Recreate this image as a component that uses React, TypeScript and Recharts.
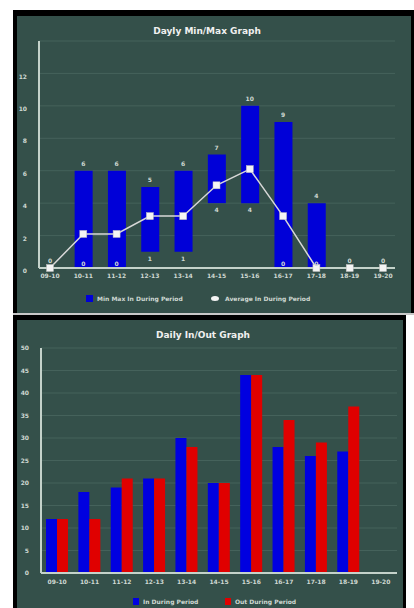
import React from 'react';
import {
  ComposedChart,
  BarChart,
  Bar,
  Line,
  XAxis,
  YAxis,
  CartesianGrid,
  LabelList,
} from 'recharts';

const hours = ['09-10', '10-11', '11-12', '12-13', '13-14', '14-15', '15-16', '16-17', '17-18', '18-19', '19-20'];
const minValues = [0, 0, 0, 1, 1, 4, 4, 0, 0, 0, 0];
const maxValues = [0, 6, 6, 5, 6, 7, 10, 9, 4, 0, 0];
const avgValues = [0, 2.1, 2.1, 3.2, 3.2, 5.1, 6.1, 3.2, 0, 0, 0];
const minMaxTicks = [0, 2, 4, 6, 8, 10, 12];

const inValues = [12, 18, 19, 21, 30, 20, 44, 28, 26, 27, 0];
const outValues = [12, 12, 21, 21, 28, 20, 44, 34, 29, 37, 0];
const inOutTicks = [0, 5, 10, 15, 20, 25, 30, 35, 40, 45, 50];

const BG = '#34504a';
const GRID = '#45625b';
const AXIS = '#c4d2ca';
const TEXT = '#cfd8d2';
const FONT = '"DejaVu Sans", sans-serif';

const minMaxData = hours.map((h, i) => ({
  idx: i,
  hour: h,
  range: [minValues[i], maxValues[i]],
  min: minValues[i],
  max: maxValues[i],
  avg: avgValues[i],
}));

const inOutData = hours.map((h, i) => ({ hour: h, inn: inValues[i], out: outValues[i] }));

const tickStyle = { fill: TEXT, fontSize: 6, fontFamily: FONT, fontWeight: 'bold' as const };

// labels ride on invisible lines so zero-height bars still get one
const maxLabel = (props: any) => {
  const { x, y, value } = props;
  return (
    <text x={x} y={y - 5} textAnchor="middle" fill={TEXT} fontSize={6} fontFamily={FONT} fontWeight="bold">
      {value}
    </text>
  );
};

const minLabel = (props: any) => {
  const { x, y, value, index } = props;
  if (maxValues[index] === 0) return null;
  return (
    <text x={x} y={Math.min(y + 9, 266)} textAnchor="middle" fill={TEXT} fontSize={6} fontFamily={FONT} fontWeight="bold">
      {value}
    </text>
  );
};

const squareDot = (props: any) => {
  const { cx, cy, index } = props;
  return <rect key={index} x={cx - 3.5} y={cy - 3.5} width={7} height={7} fill="#f4f4f4" stroke="#bbbbbb" strokeWidth={0.5} />;
};

const legendText: React.CSSProperties = {
  position: 'absolute',
  color: TEXT,
  fontSize: 6,
  fontFamily: FONT,
  fontWeight: 'bold',
  whiteSpace: 'nowrap',
};

export default function App() {
  return (
    <div style={{ position: 'absolute', left: 0, top: 0, width: 414, height: 608, background: '#ffffff', overflow: 'hidden' }}>
      {/* top panel */}
      <div style={{ position: 'absolute', left: 13, top: 10, width: 401, height: 303, boxSizing: 'border-box', background: BG, borderTop: '6px solid #000', borderLeft: '4px solid #000', borderRight: '3px solid #000' }} />
      <div style={{ position: 'absolute', left: 13, top: 313, width: 401, height: 2, background: '#c8c8c8' }} />
      {/* bottom panel */}
      <div style={{ position: 'absolute', left: 13, top: 315, width: 393, height: 293, boxSizing: 'border-box', background: BG, borderTop: '5px solid #000', borderLeft: '4px solid #000', borderRight: '3px solid #000' }} />

      <div style={{ position: 'absolute', left: 0, top: 26, width: 414, textAlign: 'center', color: '#f0f0f0', fontFamily: FONT, fontWeight: 'bold', fontSize: 9 }}>
        Dayly Min/Max Graph
      </div>
      <div style={{ position: 'absolute', left: 0, top: 330, width: 406, textAlign: 'center', color: '#f0f0f0', fontFamily: FONT, fontWeight: 'bold', fontSize: 9 }}>
        Daily In/Out Graph
      </div>

      <div style={{ position: 'absolute', left: 0, top: 0 }}>
        <ComposedChart width={414} height={313} data={minMaxData} margin={{ top: 41, right: 19, bottom: 29, left: 17 }}>
          <CartesianGrid vertical={false} stroke={GRID} />
          <XAxis
            dataKey="idx"
            type="number"
            domain={[-0.33, 10.36]}
            ticks={hours.map((_, i) => i)}
            interval={0}
            tickFormatter={(v) => hours[v]}
            axisLine={{ stroke: AXIS, strokeWidth: 2 }}
            tickLine={false}
            tick={tickStyle}
            tickMargin={0}
            height={16}
          />
          <YAxis
            domain={[0, 14]}
            ticks={minMaxTicks}
            interval={0}
            axisLine={{ stroke: AXIS, strokeWidth: 2 }}
            tickLine={false}
            tick={{ ...tickStyle, dy: 3 }}
            tickMargin={6}
            width={22}
          />
          <Bar dataKey="range" name="Min Max In During Period" barSize={18} fill="#0000d8" isAnimationActive={false} />
          <Line dataKey="max" stroke="none" dot={false} activeDot={false} legendType="none" isAnimationActive={false}>
            <LabelList dataKey="max" content={maxLabel} />
          </Line>
          <Line dataKey="min" stroke="none" dot={false} activeDot={false} legendType="none" isAnimationActive={false}>
            <LabelList dataKey="min" content={minLabel} />
          </Line>
          <Line dataKey="avg" name="Average In During Period" stroke="#d8d8d8" strokeWidth={1.5} dot={squareDot} activeDot={false} isAnimationActive={false} />
        </ComposedChart>
      </div>

      <div style={{ position: 'absolute', left: 0, top: 316 }}>
        <BarChart width={414} height={292} data={inOutData} margin={{ top: 32, right: 17, bottom: 19, left: 17 }} barGap={0}>
          <CartesianGrid vertical={false} stroke={GRID} />
          <XAxis
            dataKey="hour"
            interval={0}
            axisLine={{ stroke: AXIS, strokeWidth: 2 }}
            tickLine={false}
            tick={tickStyle}
            tickMargin={1}
            height={16}
          />
          <YAxis
            domain={[0, 50]}
            ticks={inOutTicks}
            interval={0}
            axisLine={{ stroke: AXIS, strokeWidth: 2 }}
            tickLine={false}
            tick={tickStyle}
            tickMargin={6}
            width={24}
          />
          <Bar dataKey="inn" name="In During Period" barSize={11} fill="#0000e0" isAnimationActive={false} />
          <Bar dataKey="out" name="Out During Period" barSize={11} fill="#e00000" isAnimationActive={false} />
        </BarChart>
      </div>

      {/* legends */}
      <div style={{ position: 'absolute', left: 86, top: 295, width: 7, height: 7, background: '#0000d8' }} />
      <div style={{ ...legendText, left: 97, top: 295 }}>Min Max In During Period</div>
      <div style={{ position: 'absolute', left: 211, top: 296, width: 8, height: 5, borderRadius: '50%', background: '#f4f4f4' }} />
      <div style={{ ...legendText, left: 225, top: 295 }}>Average In During Period</div>

      <div style={{ position: 'absolute', left: 133, top: 598, width: 6, height: 7, background: '#0000e0' }} />
      <div style={{ ...legendText, left: 143, top: 598 }}>In During Period</div>
      <div style={{ position: 'absolute', left: 225, top: 598, width: 6, height: 7, background: '#e00000' }} />
      <div style={{ ...legendText, left: 235, top: 598 }}>Out During Period</div>
    </div>
  );
}
